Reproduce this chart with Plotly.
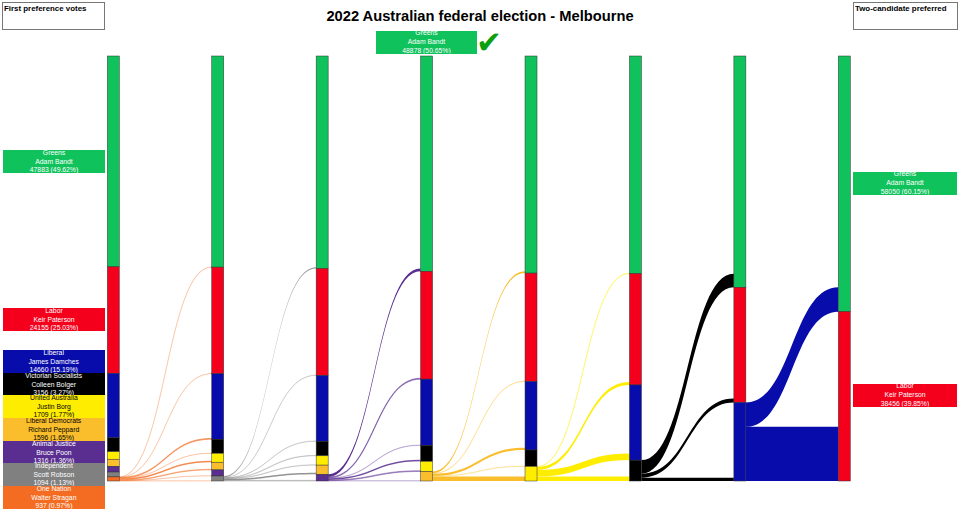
"""2022 Australian federal election, Melbourne: preference flow sankey."""

import plotly.graph_objects as go

parties = ["Greens", "Labor", "Liberal", "Victorian Socialists", "United Australia",
           "Liberal Democrats", "Animal Justice", "Independent", "One Nation"]
candidates = ["Adam Bandt", "Keir Paterson", "James Damches", "Colleen Bolger", "Justin Borg",
              "Richard Peppard", "Bruce Poon", "Scott Robson", "Walter Stragan"]

# tally of every remaining candidate at each count
count_1 = [47883, 24155, 14660, 3156, 1709, 1596, 1316, 1094, 937]
count_2 = [47943, 24215, 14860, 3196, 2029, 1746, 1376, 1141]
count_3 = [48243, 24295, 14950, 3296, 2119, 2086, 1517]
count_4 = [48878, 24495, 15040, 3636, 2289, 2168]
count_5 = [49300, 24595, 15570, 3736, 3305]
count_6 = [49420, 25275, 17070, 4741]
count_7 = [52520, 26155, 17831]
count_8 = [58050, 38456]
counts = [count_1, count_2, count_3, count_4, count_5, count_6, count_7, count_8]

# where the last candidate's votes went at each exclusion
pref_1 = [60, 60, 200, 40, 320, 150, 60, 47]
pref_2 = [300, 80, 90, 100, 90, 340, 141]
pref_3 = [635, 200, 90, 340, 170, 82]
pref_4 = [422, 100, 530, 100, 1016]
pref_5 = [120, 680, 1500, 1005]
pref_6 = [3100, 880, 761]
pref_7 = [5530, 12301]
prefs = [pref_1, pref_2, pref_3, pref_4, pref_5, pref_6, pref_7]

colors = ["#10C25B", "#F5001C", "#080CAB", "#000000", "#FFED00",
          "#FABE2D", "#5A2D91", "#808080", "#F36C21"]
text_colors = ["white", "white", "white", "white", "black", "black", "white", "white", "white"]

WIDTH, HEIGHT = 960, 509
TOP, BOTTOM = 56, 481
FIRST_X, LAST_X = 113.3, 844.3

total = sum(count_1)
step = (LAST_X - FIRST_X) / (len(counts) - 1)


def rgba(hex_color, alpha):
    r, g, b = (int(hex_color[i:i + 2], 16) for i in (1, 3, 5))
    return f"rgba({r},{g},{b},{alpha:.2f})"


node_color, node_x, node_y = [], [], []
index = {}
for r, tally in enumerate(counts):
    running = 0
    for c, votes in enumerate(tally):
        index[(r, c)] = len(node_color)
        node_color.append(colors[c])
        node_x.append((FIRST_X + r * step) / WIDTH)
        node_y.append((running + votes / 2) / total)
        running += votes

source, target, value, link_color = [], [], [], []
for r, flows in enumerate(prefs):
    # votes that stay with a candidate are drawn invisible, they only hold the stack
    for c in range(len(flows)):
        source.append(index[(r, c)])
        target.append(index[(r + 1, c)])
        value.append(counts[r][c])
        link_color.append("rgba(0,0,0,0)")
    out = len(counts[r]) - 1
    for c, votes in enumerate(flows):
        source.append(index[(r, out)])
        target.append(index[(r + 1, c)])
        value.append(votes)
        # hairline flows look pale in the reference
        link_color.append(rgba(colors[out], max(0.2, min(1, votes / 400))))

fig = go.Figure(
    go.Sankey(
        arrangement="fixed",
        domain=dict(x=[0, 1], y=[1 - BOTTOM / HEIGHT, 1 - TOP / HEIGHT]),
        node=dict(pad=0, thickness=12, x=node_x, y=node_y, color=node_color,
                  line=dict(color="#333333", width=0.5), hoverinfo="none"),
        link=dict(source=source, target=target, value=value, color=link_color,
                  line=dict(width=0), hoverinfo="none"),
    )
)


def add_box(left, top, w, h, text, bg, fg, size=6.8, align="center", border=None, valign="middle"):
    fig.add_annotation(
        xref="paper", yref="paper", x=left / WIDTH, y=1 - top / HEIGHT,
        xanchor="left", yanchor="top", width=w, height=h, text=text, showarrow=False,
        bgcolor=bg, align=align, valign=valign, borderpad=1 if border else 0,
        bordercolor=border or bg, borderwidth=1 if border else 0,
        font=dict(family="Liberation Sans", size=size, color=fg),
    )


def label(c, r):
    votes = counts[r][c]
    return f"{parties[c]}<br>{candidates[c]}<br>{votes} ({votes / total * 100:.2f}%)"


first_tops = [150, 308, 350, 372.7, 395.3, 418, 440.5, 463.2, 486]
for c, top in enumerate(first_tops):
    add_box(2.5, top, 102, 23, label(c, 0), colors[c], text_colors[c])

add_box(853, 172.5, 104, 22.5, label(0, 7), colors[0], "white")
add_box(853, 384, 104, 22.5, label(1, 7), colors[1], "white")
add_box(376, 31, 101, 22.5, label(0, 3), colors[0], "white")

add_box(2, 2, 99, 24, "<b>First preference votes</b>", "white", "black",
        size=7.9, align="left", border="#777777", valign="top")
add_box(853, 2, 101, 24, "<b>Two-candidate preferred</b>", "white", "black",
        size=7.9, align="left", border="#777777", valign="top")

fig.add_annotation(
    xref="paper", yref="paper", x=489 / WIDTH, y=1 - 42 / HEIGHT, text="✔", showarrow=False,
    xanchor="center", yanchor="middle",
    font=dict(family="DejaVu Sans", size=31, color="#0DA00D"),
)

fig.update_layout(
    width=WIDTH,
    height=HEIGHT,
    margin=dict(l=0, r=0, t=0, b=0),
    paper_bgcolor="white",
    title=dict(
        text="<b>2022 Australian federal election - Melbourne</b>",
        x=0.5, xanchor="center", y=1 - 16 / HEIGHT, yanchor="middle",
        font=dict(family="Liberation Sans", size=14.7, color="black"),
    ),
)

# the page's default body margin would push the figure 8px off
fig.write_html("out.html", config=dict(displayModeBar=False),
               post_script="document.body.style.margin = '0';")
